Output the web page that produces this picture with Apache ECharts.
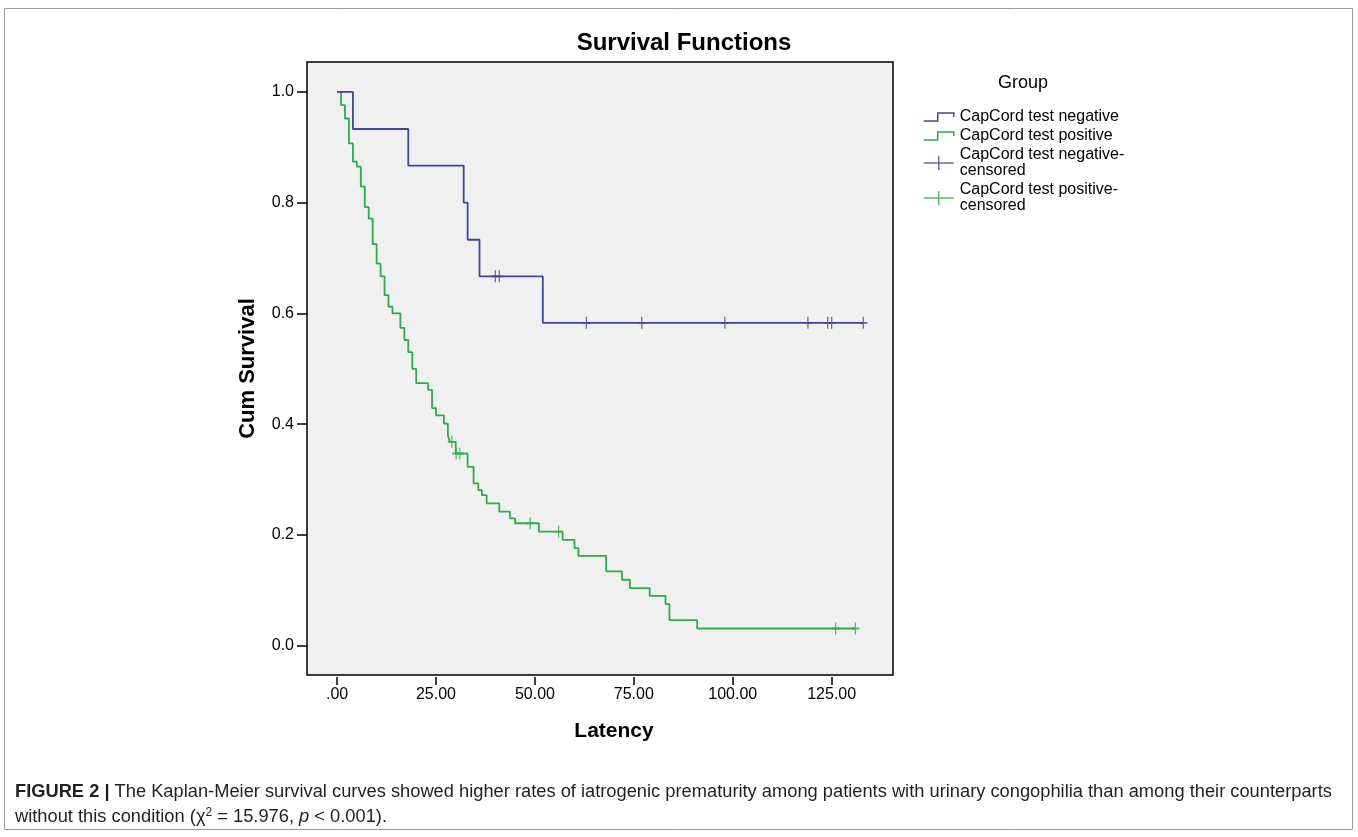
<!DOCTYPE html>
<html>

<head>
    <meta charset="utf-8">
    <script src="https://cdn.jsdelivr.net/npm/echarts@6/dist/echarts.min.js"></script>
    <style>
        body { margin: 0; background: #fff; }
    </style>
</head>

<body>
    <div id="main" style="width: 1358px;height:837px;"></div>
    <script type="text/javascript">
        // CapCord test negative: event times and survival after each step
        var negTime = [0, 4, 18, 32, 33, 36, 52, 133];
        var negSurv = [1.0, 0.933, 0.867, 0.800, 0.733, 0.667, 0.583, 0.583];
        var negCensTime = [40, 41, 63, 77, 98, 119, 124, 125, 133];
        var negCensSurv = [0.667, 0.667, 0.583, 0.583, 0.583, 0.583, 0.583, 0.583, 0.583];

        // CapCord test positive
        var posTime = [0, 1, 2, 3, 4, 5, 6, 7, 8, 9, 10, 11, 12, 13, 14, 16, 17, 18, 19, 20,
            23, 24, 25, 27, 28, 28.5, 30, 33, 34.5, 35.7, 36.6, 37.8, 41, 43.7, 45, 51, 57, 60, 61,
            68, 72, 74, 79, 83, 84, 91, 131];
        var posSurv = [1.0, 0.976, 0.952, 0.907, 0.874, 0.865, 0.829, 0.792, 0.771, 0.725, 0.690,
            0.667, 0.633, 0.612, 0.600, 0.574, 0.552, 0.530, 0.500, 0.474, 0.462, 0.429, 0.416,
            0.401, 0.380, 0.368, 0.347, 0.323, 0.293, 0.281, 0.272, 0.257, 0.242, 0.230, 0.221,
            0.206, 0.191, 0.176, 0.162, 0.134, 0.119, 0.104, 0.090, 0.075, 0.046, 0.031, 0.031];
        var posCensTime = [29, 30.1, 31, 48.8, 56, 126, 131];
        var posCensSurv = [0.368, 0.347, 0.347, 0.221, 0.206, 0.031, 0.031];

        var xTicks = [0, 25, 50, 75, 100, 125];
        var yTicks = [0, 0.2, 0.4, 0.6, 0.8, 1.0];
        var groupNames = ['CapCord test negative', 'CapCord test positive',
            'CapCord test negative-censored', 'CapCord test positive-censored'];

        var blue = '#3c4899';
        var green = '#2aae46';
        var font = 'Liberation Sans, Arial, sans-serif';

        function zip(a, b) {
            return a.map(function (v, i) { return [v, b[i]]; });
        }

        var stepIcon = 'path://M0,11L14,11L14,3L30,3L30,7M0,0M0,14';
        var crossIcon = 'path://M0,7L30,7M15,0L15,14';
        var censMark = 'path://M5,0L5,12M0,6L10,6';

        var myChart = echarts.init(document.getElementById('main'));
        var option = {
            animation: false,
            backgroundColor: '#fff',
            grid: {
                show: true,
                left: 307, top: 62, width: 586, height: 613,
                backgroundColor: '#f0f0f0',
                borderColor: '#000',
                borderWidth: 1.5
            },
            xAxis: {
                type: 'value',
                min: -7.6, max: 140.5,
                offset: 2,
                name: 'Latency',
                nameLocation: 'middle',
                nameGap: 44,
                nameTextStyle: { fontSize: 21, fontWeight: 'bold', color: '#000', fontFamily: font, padding: [0, 0, 0, 28] },
                axisLine: { show: false, onZero: false },
                axisTick: { show: true, length: 8, lineStyle: { color: '#000', width: 1.5 }, customValues: xTicks },
                axisLabel: {
                    margin: 10, fontSize: 16, color: '#000', fontFamily: font, customValues: xTicks,
                    formatter: function (v) { return v === 0 ? '.00' : v.toFixed(2); }
                },
                splitLine: { show: false }
            },
            yAxis: {
                type: 'value',
                min: -0.053, max: 1.054,
                name: 'Cum Survival',
                nameLocation: 'middle',
                nameGap: 48,
                nameTextStyle: { fontSize: 22, fontWeight: 'bold', color: '#000', fontFamily: font },
                axisLine: { show: false, onZero: false },
                axisTick: { show: true, length: 10, lineStyle: { color: '#000', width: 1.5 }, customValues: yTicks },
                axisLabel: {
                    margin: 13, fontSize: 16, color: '#000', fontFamily: font, customValues: yTicks,
                    formatter: function (v) { return v.toFixed(1); }
                },
                splitLine: { show: false }
            },
            legend: {
                orient: 'vertical',
                left: 918, top: 104,
                itemWidth: 32, itemHeight: 14, itemGap: 3,
                selectedMode: false,
                textStyle: { fontSize: 16, lineHeight: 16, color: '#000', fontFamily: font },
                formatter: function (n) { return n.replace('-censored', '-\ncensored'); },
                data: [
                    { name: groupNames[0], icon: stepIcon, itemStyle: { color: 'transparent', borderColor: blue, borderWidth: 1.5 } },
                    { name: groupNames[1], icon: stepIcon, itemStyle: { color: 'transparent', borderColor: green, borderWidth: 1.5 } },
                    { name: groupNames[2], icon: crossIcon, itemStyle: { color: 'transparent', borderColor: blue, borderWidth: 1.5 } },
                    { name: groupNames[3], icon: crossIcon, itemStyle: { color: 'transparent', borderColor: green, borderWidth: 1.5 } }
                ]
            },
            graphic: [
                {
                    type: 'rect', z: -1, silent: true,
                    shape: { x: 4.5, y: 8.5, width: 1348, height: 821 },
                    style: { fill: 'none', stroke: '#9a9a9a', lineWidth: 1 }
                },
                {
                    type: 'text', x: 684, y: 43,
                    style: { text: 'Survival Functions', fontSize: 24, fontWeight: 'bold', fontFamily: font, fill: '#000', textAlign: 'center', textVerticalAlign: 'middle' }
                },
                {
                    type: 'text', x: 1023, y: 83,
                    style: { text: 'Group', fontSize: 18, fontFamily: font, fill: '#000', textAlign: 'center', textVerticalAlign: 'middle' }
                },
                {
                    type: 'text', x: 15, y: 792,
                    style: {
                        text: '{b|FIGURE 2 |} The Kaplan-Meier survival curves showed higher rates of iatrogenic prematurity among patients with urinary congophilia than among their counterparts',
                        fontSize: 18.3, fontFamily: font, fill: '#231f20', textVerticalAlign: 'middle',
                        rich: { b: { fontSize: 18.3, fontWeight: 'bold', fontFamily: font, fill: '#231f20' } }
                    }
                },
                {
                    type: 'text', x: 15, y: 817,
                    style: {
                        text: 'without this condition (χ{sup|2} = 15.976, {i|p} < 0.001).',
                        fontSize: 18.3, fontFamily: font, fill: '#231f20', textVerticalAlign: 'middle',
                        rich: {
                            sup: { fontSize: 12, fontFamily: font, fill: '#231f20', padding: [0, 0, 8, 0] },
                            i: { fontSize: 18.3, fontStyle: 'italic', fontFamily: font, fill: '#231f20' }
                        }
                    }
                }
            ],
            series: [
                {
                    name: groupNames[0], type: 'line', step: 'end', symbol: 'none',
                    data: zip(negTime, negSurv),
                    lineStyle: { color: blue, width: 1.8 }, itemStyle: { color: blue },
                    emphasis: { disabled: true }, z: 3
                },
                {
                    name: groupNames[1], type: 'line', step: 'end', symbol: 'none',
                    data: zip(posTime, posSurv),
                    lineStyle: { color: green, width: 1.8 }, itemStyle: { color: green },
                    emphasis: { disabled: true }, z: 2
                },
                {
                    name: groupNames[2], type: 'scatter', symbol: censMark, symbolSize: [8, 12],
                    data: zip(negCensTime, negCensSurv),
                    itemStyle: { color: blue, borderColor: blue, borderWidth: 1.5 },
                    emphasis: { disabled: true }, z: 4
                },
                {
                    name: groupNames[3], type: 'scatter', symbol: censMark, symbolSize: [8, 12],
                    data: zip(posCensTime, posCensSurv),
                    itemStyle: { color: green, borderColor: green, borderWidth: 1.5 },
                    emphasis: { disabled: true }, z: 4
                }
            ]
        };
        myChart.setOption(option);
    </script>
</body>

</html>
